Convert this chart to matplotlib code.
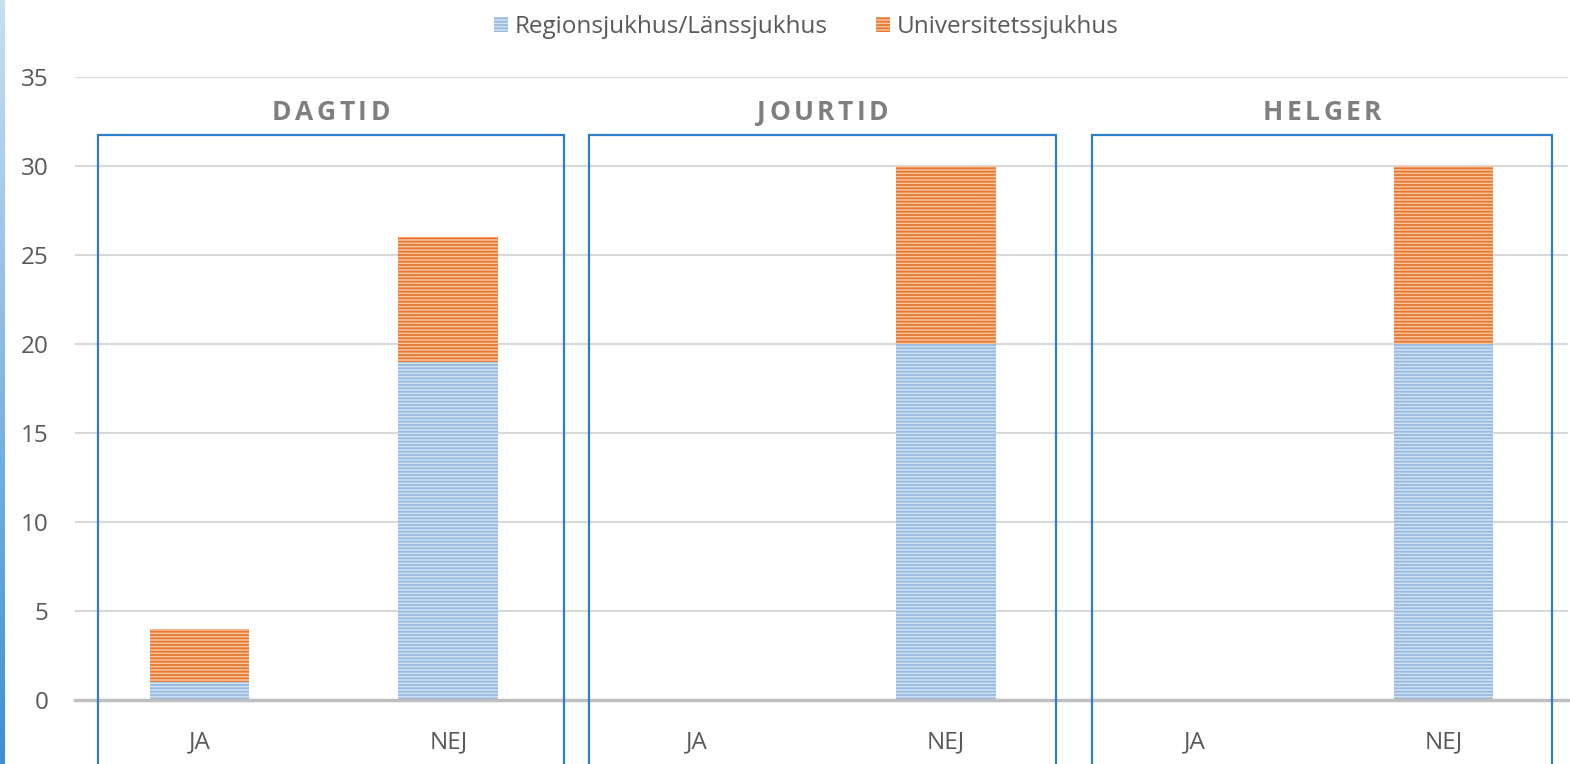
import numpy as np
import matplotlib.pyplot as plt
from matplotlib.patches import Rectangle, Patch
from matplotlib.colors import LinearSegmentedColormap
import matplotlib.transforms as mtransforms

plt.rcParams['font.family'] = ['Open Sans', 'DejaVu Sans']
plt.rcParams['hatch.linewidth'] = 1.3

# data
groups = ['DAGTID', 'JOURTID', 'HELGER']
answers = ['JA', 'NEJ']
regions = [1, 19, 0, 20, 0, 20]        # Regionsjukhus/Länssjukhus
univ = [3, 7, 0, 10, 0, 10]            # Universitetssjukhus
series_names = ['Regionsjukhus/Länssjukhus', 'Universitetssjukhus']

W, H = 1570, 764
fig = plt.figure(figsize=(W / 100, H / 100), dpi=100)
ax = fig.add_axes([75 / W, (H - 700) / H, (1568 - 75) / W, 623 / H])

x = np.arange(len(regions))
blue_fill, blue_line = '#cfe0f1', '#97badf'
orange_fill, orange_line = '#f7c4a0', '#e8772f'

ax.bar(x, regions, 0.4, color=blue_fill, edgecolor=blue_line, linewidth=0,
       hatch='-----', zorder=3)
ax.bar(x, univ, 0.4, bottom=regions, color=orange_fill, edgecolor=orange_line,
       linewidth=0, hatch='-----', zorder=3)

ax.set_xlim(-0.5, 5.5)
ax.set_ylim(0, 35)
ax.set_yticks(range(0, 36, 5))
ax.set_xticks(x)
ax.set_xticklabels(answers * 3)
ax.tick_params(axis='both', length=0, labelsize=17.5, labelcolor='#595959')
ax.tick_params(axis='y', pad=19)
ax.tick_params(axis='x', pad=22)
ax.grid(axis='y', color='#d9d9d9', linewidth=1.5, zorder=0)
for s in ax.spines.values():
    s.set_visible(False)
ax.axhline(0, color='#bfbfbf', linewidth=2.5, zorder=4, clip_on=False)

# group boxes and titles
trans = mtransforms.blended_transform_factory(ax.transData, fig.transFigure)
box_spans = [(-0.408, 1.465), (1.566, 3.443), (3.588, 5.436)]
top = (H - 135) / H
fig.canvas.draw()
renderer = fig.canvas.get_renderer()
for (x0, x1), name in zip(box_spans, groups):
    r = Rectangle((x0, -0.05), x1 - x0, top + 0.05, transform=trans,
                  fill=False, edgecolor='#2e7fc9', linewidth=1.6,
                  clip_on=False, zorder=5)
    fig.add_artist(r)
    # letter-spaced bold title
    cx = (x0 + x1) / 2
    cx_px = ax.transData.transform((cx, 0))[0]
    spacing = 3.5
    texts = [fig.text(0, 0, ch, fontsize=19, fontweight='bold', color='#7f7f7f')
             for ch in name]
    widths = [t.get_window_extent(renderer).width for t in texts]
    total = sum(widths) + spacing * (len(name) - 1)
    pos = cx_px - total / 2
    for t, w in zip(texts, widths):
        t.set_position((pos / W, (H - 112) / H))
        t.set_va('center')
        pos += w + spacing

# legend
handles = [Patch(facecolor=blue_fill, edgecolor=blue_line, hatch='-----', linewidth=0),
           Patch(facecolor=orange_fill, edgecolor=orange_line, hatch='-----', linewidth=0)]
fig.legend(handles, series_names, loc='center', bbox_to_anchor=(806 / W, (H - 27) / H),
           ncol=2, frameon=False, fontsize=17.5, labelcolor='#595959',
           handlelength=0.6, handleheight=0.6, handletextpad=0.25, columnspacing=2.0)

# left gradient strip
sax = fig.add_axes([0, 0, 5 / W, 1])
grad = np.linspace(0, 1, 256).reshape(-1, 1)
cmap = LinearSegmentedColormap.from_list('strip', ['#c8dff2', '#3e8fd2'])
sax.imshow(grad, aspect='auto', cmap=cmap, extent=[0, 1, 0, 1], origin='upper')
sax.axis('off')

fig.savefig('out.png', dpi=100)
